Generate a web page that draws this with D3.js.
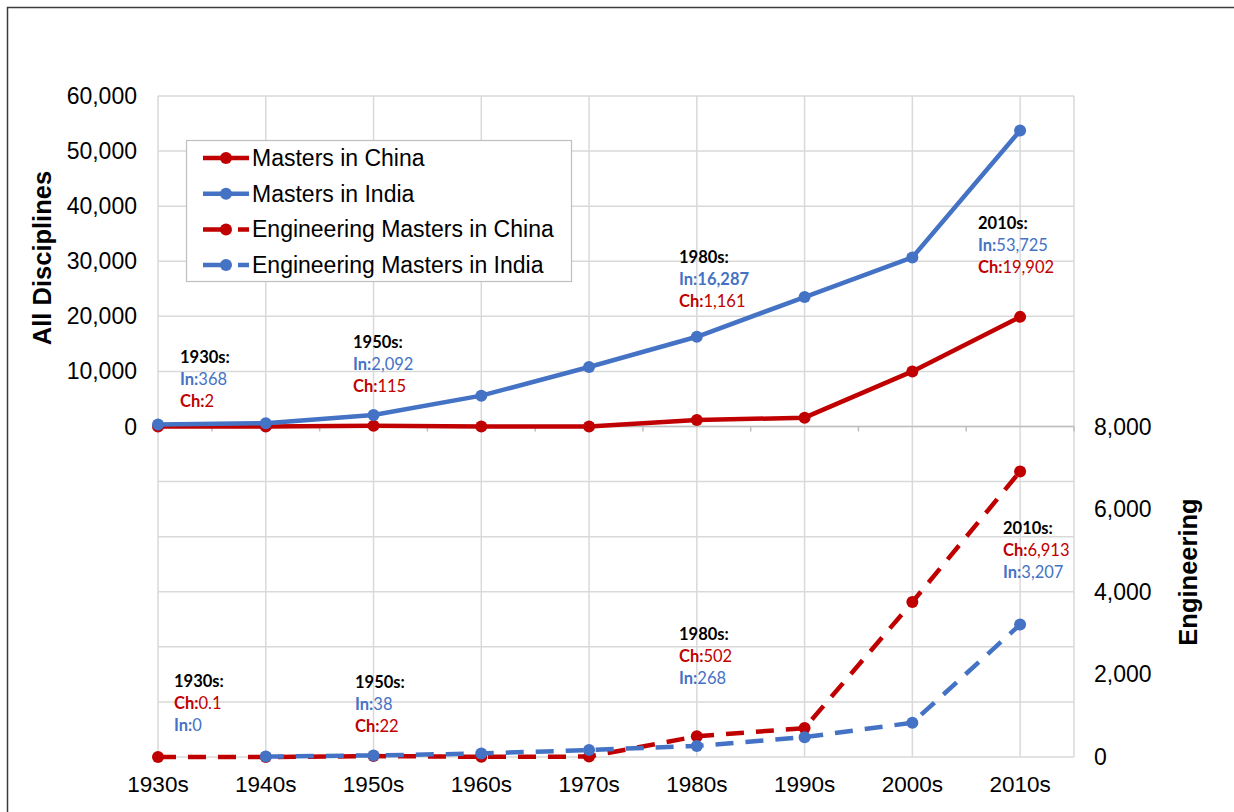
<!DOCTYPE html>
<html>
<head>
<meta charset="utf-8">
<script src="https://cdn.jsdelivr.net/npm/d3@7"></script>
<style>
  html, body { margin: 0; padding: 0; background: #fff; }
  svg { display: block; }
</style>
</head>
<body>
<svg id="chart" width="1234" height="812"></svg>
<script>
// Decades on the shared category axis
const decades = ["1930s", "1940s", "1950s", "1960s", "1970s", "1980s", "1990s", "2000s", "2010s"];

// Masters degrees, all disciplines (left axis)
const mastersChina = [2, 5, 115, 10, 20, 1161, 1600, 10000, 19902];
const mastersIndia = [368, 600, 2092, 5600, 10800, 16287, 23500, 30700, 53725];

// Engineering masters degrees (right axis); India has no 1930s point on the line
const engChina = [0.1, 0, 22, 5, 10, 502, 700, 3750, 6913];
const engIndia = [null, 10, 38, 85, 170, 268, 480, 830, 3207];

// Axis tick labels
const leftTicks = [0, 10000, 20000, 30000, 40000, 50000, 60000];
const rightTicks = [0, 2000, 4000, 6000, 8000];
const gridValues = [-60000, -50000, -40000, -30000, -20000, -10000, 0, 10000, 20000, 30000, 40000, 50000, 60000];

// Callout notes: [decade index, header, rows of [prefix, value, series]]
const notesAll = [
  { i: 0, head: "1930s:", rows: [["In:", "368", "india"], ["Ch:", "2", "china"]] },
  { i: 2, head: "1950s:", rows: [["In:", "2,092", "india"], ["Ch:", "115", "china"]] },
  { i: 5, head: "1980s:", rows: [["In:", "16,287", "india"], ["Ch:", "1,161", "china"]] },
  { i: 8, head: "2010s:", rows: [["In:", "53,725", "india"], ["Ch:", "19,902", "china"]] }
];
const notesEng = [
  { i: 0, head: "1930s:", rows: [["Ch:", "0.1", "china"], ["In:", "0", "india"]] },
  { i: 2, head: "1950s:", rows: [["In:", "38", "india"], ["Ch:", "22", "china"]] },
  { i: 5, head: "1980s:", rows: [["Ch:", "502", "china"], ["In:", "268", "india"]] },
  { i: 8, head: "2010s:", rows: [["Ch:", "6,913", "china"], ["In:", "3,207", "india"]] }
];

const RED = "#c00000";
const BLUE = "#4472c4";
const GRID = "#d9d9d9";
const colorOf = { china: RED, india: BLUE };

const svg = d3.select("#chart");
const frame = { left: 158, right: 1074, top: 96, bottom: 757 };

// Category positions: first decade sits on the left edge, half a step of room on the right
const x = d3.scaleLinear()
  .domain([0, decades.length - 0.5])
  .range([frame.left, frame.right]);
const yAll = d3.scaleLinear().domain([-60000, 60000]).range([frame.bottom, frame.top]);
const yEng = d3.scaleLinear().domain([0, 16000]).range([frame.bottom, frame.top]);

// Outer frame of the figure
svg.append("path")
  .attr("d", "M7.5,812 L7.5,7.5 L1234,7.5")
  .attr("fill", "none")
  .attr("stroke", "#3a3a3a")
  .attr("stroke-width", 1.5);

// Gridlines
const grid = svg.append("g");
grid.selectAll("line.h").data(gridValues).join("line")
  .attr("x1", frame.left).attr("x2", frame.right)
  .attr("y1", d => yAll(d)).attr("y2", d => yAll(d))
  .attr("stroke", GRID).attr("stroke-width", 1.5);
grid.selectAll("line.v").data(decades.map((d, i) => i).concat([decades.length - 0.5])).join("line")
  .attr("x1", d => x(d)).attr("x2", d => x(d))
  .attr("y1", frame.top).attr("y2", frame.bottom)
  .attr("stroke", GRID).attr("stroke-width", 1.5);

// Zero line of the upper panel with small ticks between decades
grid.append("line")
  .attr("x1", frame.left).attr("x2", frame.right)
  .attr("y1", yAll(0)).attr("y2", yAll(0))
  .attr("stroke", "#bfbfbf").attr("stroke-width", 1.5);
grid.selectAll("line.t").data(decades.map((d, i) => i + 0.5)).join("line")
  .attr("x1", d => x(d)).attr("x2", d => x(d))
  .attr("y1", yAll(0)).attr("y2", yAll(0) + 5)
  .attr("stroke", "#bfbfbf").attr("stroke-width", 1.5);

// Axis labels
const axisFont = "'Liberation Sans', Arial, sans-serif";
const fmt = d3.format(",");

svg.append("g").selectAll("text").data(leftTicks).join("text")
  .attr("x", 137).attr("y", d => yAll(d))
  .attr("text-anchor", "end").attr("dominant-baseline", "central")
  .attr("font-family", axisFont).attr("font-size", 23).attr("fill", "#000")
  .text(d => fmt(d));

svg.append("g").selectAll("text").data(rightTicks).join("text")
  .attr("x", 1094).attr("y", d => yEng(d))
  .attr("text-anchor", "start").attr("dominant-baseline", "central")
  .attr("font-family", axisFont).attr("font-size", 23).attr("fill", "#000")
  .text(d => fmt(d));

svg.append("g").selectAll("text").data(decades).join("text")
  .attr("x", (d, i) => x(i)).attr("y", 784)
  .attr("text-anchor", "middle").attr("dominant-baseline", "central")
  .attr("font-family", axisFont).attr("font-size", 22.5).attr("fill", "#000")
  .text(d => d);

svg.append("text")
  .attr("transform", "translate(42,258) rotate(-90)")
  .attr("text-anchor", "middle").attr("dominant-baseline", "central")
  .attr("font-family", axisFont).attr("font-size", 25.5).attr("font-weight", "bold")
  .text("All Disciplines");

svg.append("text")
  .attr("transform", "translate(1188,572) rotate(-90)")
  .attr("text-anchor", "middle").attr("dominant-baseline", "central")
  .attr("font-family", axisFont).attr("font-size", 25.5).attr("font-weight", "bold")
  .text("Engineering");

// Series
const seriesList = [
  { name: "Masters in China", values: mastersChina, y: yAll, color: RED, dash: null },
  { name: "Masters in India", values: mastersIndia, y: yAll, color: BLUE, dash: null },
  { name: "Engineering Masters in China", values: engChina, y: yEng, color: RED, dash: "18,12" },
  { name: "Engineering Masters in India", values: engIndia, y: yEng, color: BLUE, dash: "18,12" }
];

const plot = svg.append("g");
seriesList.forEach(s => {
  const pts = s.values.map((v, i) => ({ i, v })).filter(p => p.v !== null);
  const line = d3.line().x(p => x(p.i)).y(p => s.y(p.v));
  const g = plot.append("g");
  g.append("path")
    .attr("d", line(pts))
    .attr("fill", "none")
    .attr("stroke", s.color)
    .attr("stroke-width", 4.5)
    .attr("stroke-linejoin", "round")
    .attr("stroke-dasharray", s.dash);
  g.selectAll("circle").data(pts).join("circle")
    .attr("cx", p => x(p.i)).attr("cy", p => s.y(p.v))
    .attr("r", 6).attr("fill", s.color);
});

// Callout notes
const noteFont = "Lato, 'Open Sans', sans-serif";
function drawNotes(list, positions) {
  list.forEach((n, k) => {
    const pos = positions[k];
    const g = svg.append("g").attr("font-family", noteFont).attr("font-size", 16.5);
    g.append("text")
      .attr("x", pos[0]).attr("y", pos[1])
      .attr("dominant-baseline", "central")
      .attr("font-weight", "bold").attr("fill", "#000")
      .text(n.head);
    n.rows.forEach((r, j) => {
      const t = g.append("text")
        .attr("x", pos[0]).attr("y", pos[1] + 22 * (j + 1))
        .attr("dominant-baseline", "central")
        .attr("fill", colorOf[r[2]]);
      t.append("tspan").attr("font-weight", "bold").text(r[0]);
      t.append("tspan").attr("font-weight", r[1] === "16,287" ? "bold" : "normal").text(r[1]);
    });
  });
}
drawNotes(notesAll, [[180, 357], [353, 342], [679, 257], [978, 223]]);
drawNotes(notesEng, [[174, 681], [355, 682], [679, 634], [1003, 528]]);

// Legend
const legend = svg.append("g");
legend.append("rect")
  .attr("x", 186.5).attr("y", 140.5).attr("width", 385).attr("height", 141)
  .attr("fill", "#fff").attr("stroke", "#bfbfbf").attr("stroke-width", 1.2);
seriesList.forEach((s, k) => {
  const cy = 158 + k * 35.7;
  legend.append("line")
    .attr("x1", 203).attr("x2", 249).attr("y1", cy).attr("y2", cy)
    .attr("stroke", s.color).attr("stroke-width", 4.5)
    .attr("stroke-dasharray", s.dash ? "26,9,11" : null);
  legend.append("circle").attr("cx", 226).attr("cy", cy).attr("r", 6).attr("fill", s.color);
  legend.append("text")
    .attr("x", 252).attr("y", cy)
    .attr("dominant-baseline", "central")
    .attr("font-family", axisFont).attr("font-size", 23).attr("fill", "#000")
    .text(s.name);
});
</script>
</body>
</html>
